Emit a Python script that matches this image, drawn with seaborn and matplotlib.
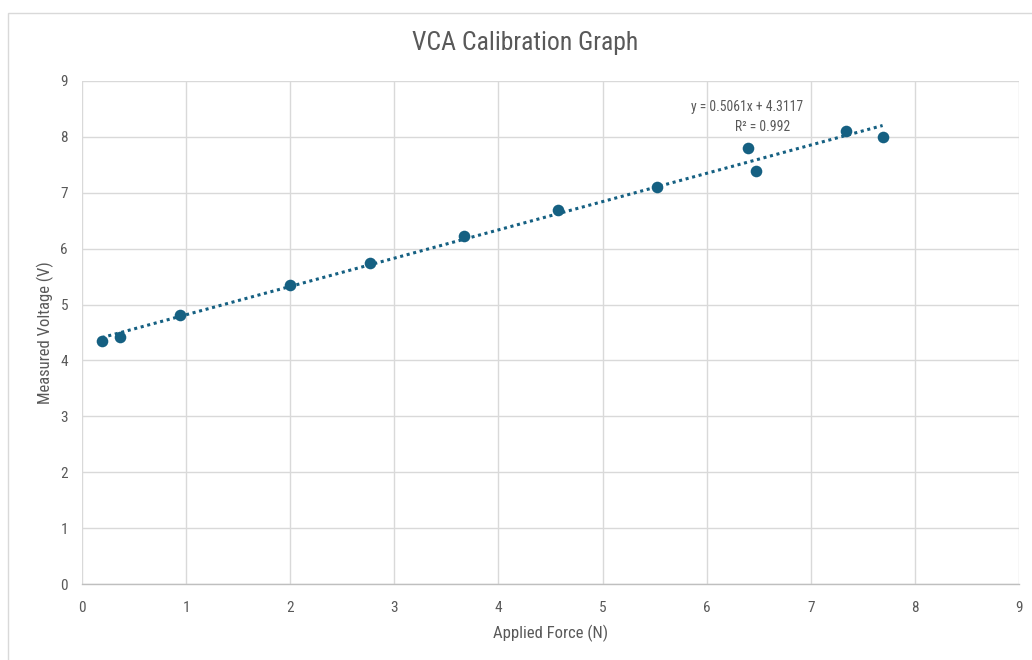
import matplotlib
matplotlib.use("Agg")
import matplotlib.pyplot as plt
import seaborn as sns
import numpy as np
import pandas as pd
from matplotlib import font_manager
from matplotlib.patches import Rectangle

# Data
force = [0.19, 0.365, 0.94, 2.0, 2.77, 3.67, 4.57, 5.52, 6.40, 6.47, 7.34, 7.69]
voltage = [4.34, 4.42, 4.81, 5.35, 5.74, 6.23, 6.69, 7.10, 7.80, 7.39, 8.10, 8.00]
trend_slope = 0.5061
trend_intercept = 4.3117
r_squared = 0.992
x_ticks = list(range(0, 10))
y_ticks = list(range(0, 10))

sns.set_theme(style="white")
names = {f.name for f in font_manager.fontManager.ttflist}
fam = [f for f in ["Liberation Sans Narrow", "Roboto Condensed", "Liberation Sans"] if f in names] + ["DejaVu Sans"]
plt.rcParams['font.family'] = fam

grey = "#595959"
color = "#156082"

fig = plt.figure(figsize=(10.32, 6.6), dpi=100)
ax = fig.add_axes([82/1032, 1-584/660, (1019-82)/1032, (584-81)/660])

fig.patches.append(Rectangle((8/1032, -0.1), 1.2, 1 - 13/660 + 0.1, transform=fig.transFigure,
                             fill=False, edgecolor="#d9d9d9", linewidth=1.0))

df = pd.DataFrame({"force": force, "voltage": voltage})
xs = np.array([min(force), max(force)])
trend = pd.DataFrame({"x": xs, "y": trend_slope * xs + trend_intercept})

sns.lineplot(data=trend, x="x", y="y", ax=ax, color=color, linewidth=2.2,
             linestyle=(0, (1, 1.2)), zorder=3)
sns.scatterplot(data=df, x="force", y="voltage", ax=ax, color=color, s=70,
                edgecolor=color, linewidth=0, zorder=4)

ax.set_xlim(0, 9)
ax.set_ylim(0, 9)
ax.set_xticks(x_ticks)
ax.set_yticks(y_ticks)
ax.grid(True, color="#d9d9d9", linewidth=1.0)
ax.set_axisbelow(True)
for s in ["top", "right", "left"]:
    ax.spines[s].set_visible(False)
ax.spines["bottom"].set_color("#bfbfbf")
ax.spines["bottom"].set_linewidth(1.0)
ax.tick_params(axis="both", length=0, labelsize=11, labelcolor=grey, pad=10)
ax.tick_params(axis="x", pad=12)

ax.set_xlabel("Applied Force (N)", fontsize=12, color=grey, labelpad=7)
ax.set_ylabel("Measured Voltage (V)", fontsize=12, color=grey, labelpad=5)
fig.text(525/1032, 1-43/660, "VCA Calibration Graph", ha="center", va="center",
         fontsize=18.5, color=grey)

ax.text((747-82)/104.1, (584-107)/55.9, f"y = {trend_slope}x + {trend_intercept}",
        ha="center", va="center", fontsize=9.8, color=grey)
ax.text((762-82)/104.1, (584-127)/55.9, f"R² = {r_squared}",
        ha="center", va="center", fontsize=9.8, color=grey)

fig.savefig("out.png", dpi=100)
